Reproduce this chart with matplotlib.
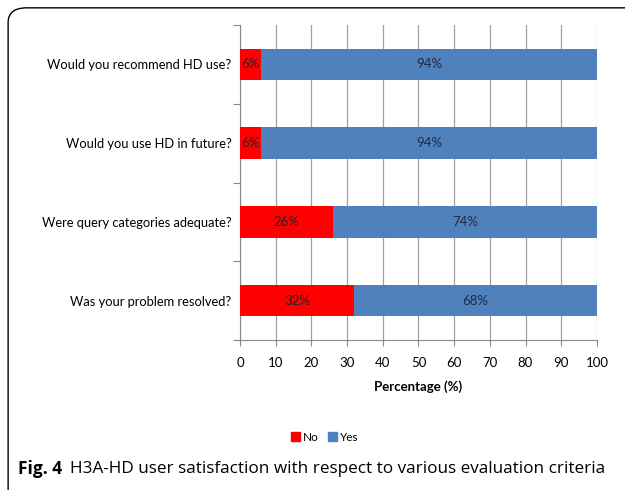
import matplotlib.pyplot as plt
from matplotlib.patches import FancyBboxPatch, Patch

questions = ['Was your problem resolved?', 'Were query categories adequate?',
             'Would you use HD in future?', 'Would you recommend HD use?']
no_vals = [32, 26, 6, 6]
yes_vals = [68, 74, 94, 94]

plt.rcParams['font.family'] = ['Lato', 'DejaVu Sans']

fig = plt.figure(figsize=(6.25, 4.9), dpi=100)
ax = fig.add_axes([0.384, 0.306, 0.571, 0.643])

red = '#ff0000'
blue = '#4f81bd'
ypos = range(len(questions))
ax.barh(ypos, no_vals, height=0.4, color=red, zorder=3)
ax.barh(ypos, yes_vals, left=no_vals, height=0.4, color=blue, zorder=3)

# value labels
for y, n, ys in zip(ypos, no_vals, yes_vals):
    ax.text(n / 2, y, f'{n}%', ha='center', va='center', fontsize=9.5,
            color='#222222', zorder=4)
    ax.text(n + ys / 2, y, f'{ys}%', ha='center', va='center', fontsize=9.5,
            color='#1f2a44', zorder=4)

ax.set_xlim(0, 100)
ax.set_ylim(-0.5, 3.5)
ax.set_xticks(range(0, 101, 10))
ax.tick_params(axis='x', length=4, color='#888888', labelsize=9.5, pad=8)
ax.xaxis.grid(True, color='#a0a0a0', linewidth=0.9, zorder=0)

# category labels sit between the tick marks
ax.set_yticks([-0.5, 0.5, 1.5, 2.5, 3.5])
ax.set_yticklabels([])
ax.set_yticks(list(ypos), minor=True)
ax.set_yticklabels(questions, minor=True, fontsize=9.3)
ax.tick_params(axis='y', which='major', length=5, color='#888888')
ax.tick_params(axis='y', which='minor', length=0, pad=6)

for s in ['top', 'right']:
    ax.spines[s].set_visible(False)
ax.spines['left'].set_color('#888888')
ax.spines['bottom'].set_color('#888888')

ax.set_xlabel('Percentage (%)', fontsize=9.5, fontweight='bold', labelpad=8)

fig.legend(handles=[Patch(color=red, label='No'), Patch(color=blue, label='Yes')],
           loc='center', bbox_to_anchor=(0.52, 0.108), ncol=2, frameon=False,
           fontsize=8.5, handlelength=0.7, handleheight=0.7, handletextpad=0.3,
           columnspacing=0.8)

# rounded outer frame
frame = FancyBboxPatch((0.013, -0.05), 1.1, 1.034, boxstyle='round,pad=0,rounding_size=0.03',
                       transform=fig.transFigure, fill=False, edgecolor='black',
                       linewidth=1.0, clip_on=False)
fig.patches.append(frame)

cap_font = ['Open Sans', 'DejaVu Sans']
t1 = fig.text(0.029, 0.043, 'Fig. 4', fontsize=12.5, fontweight='bold',
              family=cap_font, va='center')
fig.canvas.draw()
bb = t1.get_window_extent().transformed(fig.transFigure.inverted())
fig.text(bb.x1 + 0.013, 0.043,
         'H3A-HD user satisfaction with respect to various evaluation criteria',
         fontsize=12.35, family=cap_font, va='center')

plt.savefig('out.png', dpi=100)
